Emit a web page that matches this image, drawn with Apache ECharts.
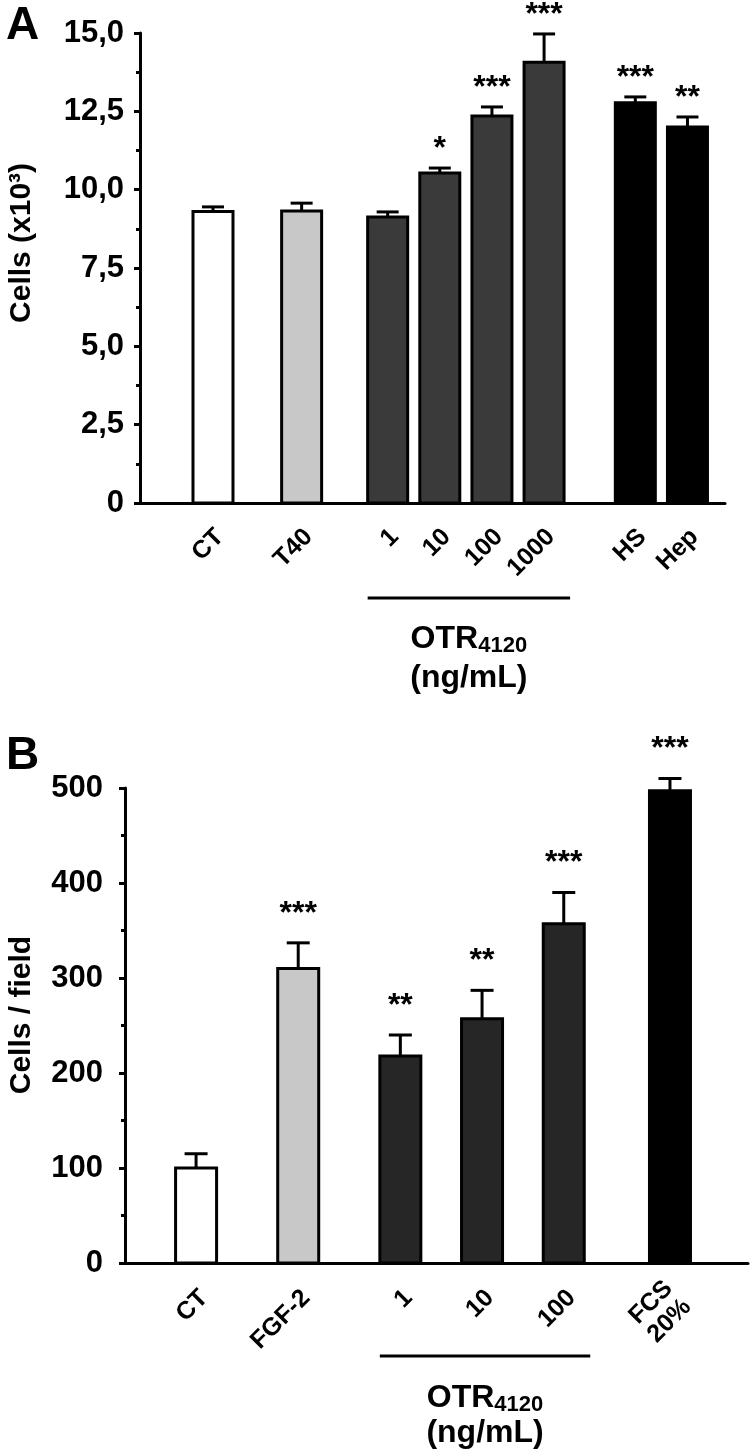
<!DOCTYPE html>
<html>
<head>
<meta charset="utf-8">
<script src="https://cdn.jsdelivr.net/npm/echarts@6/dist/echarts.min.js"></script>
<style>
html,body{margin:0;padding:0;background:#fff;}
#c{width:750px;height:1455px;}
</style>
</head>
<body>
<div id="c"></div>
<script>
// ---------- Panel A data ----------
const catsA = ['CT', 'T40', '1', '10', '100', '1000', 'HS', 'Hep'];
const posA = [0, 1.7, 3.35, 4.35, 5.35, 6.35, 8.1, 9.1];
const valsA = [9.3, 9.32, 9.13, 10.53, 12.35, 14.07, 12.77, 12.0];
const errA = [0.15, 0.25, 0.16, 0.16, 0.29, 0.9, 0.19, 0.32];
const sigA = ['', '', '', '*', '***', '***', '***', '**'];
const groupA = ['ctrl', 'ref', 'otr', 'otr', 'otr', 'otr', 'pos', 'pos'];
const ticksA = ['0', '2,5', '5,0', '7,5', '10,0', '12,5', '15,0'];

// ---------- Panel B data ----------
const catsB = ['CT', 'FGF-2', '1', '10', '100', 'FCS\n20%'];
const posB = [0, 1.25, 2.5, 3.5, 4.5, 5.8];
const valsB = [100, 310, 218, 257, 357, 497];
const errB = [15, 27, 22, 30, 33, 13];
const sigB = ['', '***', '**', '**', '***', '***'];
const groupB = ['ctrl', 'ref', 'otr', 'otr', 'otr', 'pos'];
const ticksB = ['0', '100', '200', '300', '400', '500'];

const colorsA = {ctrl: '#ffffff', ref: '#c8c8c8', otr: '#3a3a3a', pos: '#000000'};
const colorsB = {ctrl: '#ffffff', ref: '#c8c8c8', otr: '#262626', pos: '#000000'};

const FB = "'Liberation Sans',Arial,Helvetica,sans-serif";

function makeRender(cats, sigs, groups, colors, cfg) {
  return function (params, api) {
    const i = params.dataIndex;
    const x = api.value(0), v = api.value(1), e = api.value(2);
    const base = api.coord([x, 0]);
    const top = api.coord([x, v]);
    const cap = api.coord([x, v + e]);
    const w = cfg.barWidth;
    const children = [
      {type: 'line', shape: {x1: top[0], y1: top[1], x2: cap[0], y2: cap[1]},
        style: {stroke: '#000', lineWidth: 3}},
      {type: 'line', shape: {x1: cap[0] - cfg.capW / 2, y1: cap[1], x2: cap[0] + cfg.capW / 2, y2: cap[1]},
        style: {stroke: '#000', lineWidth: 3}},
      {type: 'rect', shape: {x: base[0] - w / 2, y: top[1], width: w, height: base[1] - top[1]},
        style: {fill: colors[groups[i]], stroke: '#000', lineWidth: 3}},
      {type: 'text', x: cap[0], y: cap[1] - cfg.starGap,
        style: {text: sigs[i], fill: '#000', fontSize: cfg.starSize, fontWeight: 'bold', fontFamily: FB,
          align: 'center', verticalAlign: 'middle'}},
      {type: 'text', x: base[0] + cfg.labDx, y: base[1] + cfg.labDy, rotation: Math.PI / 4,
        style: {text: cats[i], fill: '#000', fontSize: cfg.labSize, fontWeight: 'bold', fontFamily: FB,
          align: 'right', verticalAlign: 'middle', lineHeight: cfg.labSize + 1}}
    ];
    return {type: 'group', children: children};
  };
}

const chart = echarts.init(document.getElementById('c'), null, {renderer: 'canvas'});

const yAxisCommon = {
  type: 'value',
  axisLine: {show: true, onZero: false, lineStyle: {color: '#000', width: 3}},
  axisTick: {show: true, inside: false, length: 6, lineStyle: {color: '#000', width: 3}},
  minorTick: {show: true, splitNumber: 2, length: 4, lineStyle: {color: '#000', width: 3}},
  splitLine: {show: false},
  axisLabel: {color: '#000', fontWeight: 'bold', fontFamily: FB, fontSize: 31}
};
const xAxisCommon = {
  type: 'value',
  axisLine: {show: true, onZero: false, lineStyle: {color: '#000', width: 3}},
  axisTick: {show: false}, axisLabel: {show: false}, splitLine: {show: false}
};

chart.setOption({
  animation: false,
  backgroundColor: '#fff',
  grid: [
    {left: 140, top: 33, width: 585, height: 470},
    {left: 125, top: 788, width: 623, height: 475}
  ],
  xAxis: [
    Object.assign({gridIndex: 0, min: -1.4, max: 9.82}, xAxisCommon),
    Object.assign({gridIndex: 1, min: -0.87, max: 6.755}, xAxisCommon)
  ],
  yAxis: [
    Object.assign({}, yAxisCommon, {gridIndex: 0, min: 0, max: 15, interval: 2.5,
      axisLabel: Object.assign({}, yAxisCommon.axisLabel, {margin: 16,
        formatter: function (v) { return ticksA[Math.round(v / 2.5)]; }})}),
    Object.assign({}, yAxisCommon, {gridIndex: 1, min: 0, max: 500, interval: 100,
      axisLabel: Object.assign({}, yAxisCommon.axisLabel, {margin: 22,
        formatter: function (v) { return ticksB[Math.round(v / 100)]; }})})
  ],
  series: [
    {type: 'custom', xAxisIndex: 0, yAxisIndex: 0, clip: false,
      renderItem: makeRender(catsA, sigA, groupA, colorsA,
        {barWidth: 40, capW: 22, starGap: 19, starSize: 32, labDx: 7, labDy: 30, labSize: 25}),
      data: posA.map(function (p, i) { return [p, valsA[i], errA[i]]; })},
    {type: 'custom', xAxisIndex: 1, yAxisIndex: 1, clip: false,
      renderItem: makeRender(catsB, sigB, groupB, colorsB,
        {barWidth: 41, capW: 23, starGap: 29, starSize: 32, labDx: 8, labDy: 31, labSize: 25}),
      data: posB.map(function (p, i) { return [p, valsB[i], errB[i]]; })}
  ]
});

// Annotation bracket under OTR groups, placed from the axis scales
function bracket(gridIdx, pos, groups, barW, lineDy, t1Dy, t2Dy) {
  const idx = [];
  groups.forEach(function (g, i) { if (g === 'otr') idx.push(i); });
  const a = chart.convertToPixel({xAxisIndex: gridIdx, yAxisIndex: gridIdx}, [pos[idx[0]], 0]);
  const b = chart.convertToPixel({xAxisIndex: gridIdx, yAxisIndex: gridIdx}, [pos[idx[idx.length - 1]], 0]);
  const x1 = a[0] - barW / 2, x2 = b[0] + barW / 2 + 6, y = a[1];
  const cx = (x1 + x2) / 2;
  return [
    {type: 'line', shape: {x1: x1, y1: y + lineDy, x2: x2, y2: y + lineDy}, style: {stroke: '#000', lineWidth: 3}},
    {type: 'text', x: cx, y: y + t1Dy, style: {text: '{a|OTR}{b|4120}', align: 'center', verticalAlign: 'middle',
      rich: {a: {fontSize: 32, fontWeight: 'bold', fontFamily: FB, fill: '#000', verticalAlign: 'bottom', padding: [0, 0, 1, 0]},
        b: {fontSize: 22, fontWeight: 'bold', fontFamily: FB, fill: '#000', verticalAlign: 'bottom'}}}},
    {type: 'text', x: cx, y: y + t2Dy, style: {text: '(ng/mL)', fontSize: 32, fontWeight: 'bold', fontFamily: FB,
      fill: '#000', align: 'center', verticalAlign: 'middle'}}
  ];
}

const gA = bracket(0, posA, groupA, 40, 95, 137, 175);
const gB = bracket(1, posB, groupB, 41, 93, 136, 170);
const yTitleA = chart.convertToPixel({yAxisIndex: 0}, 8.3);
const yTitleB = chart.convertToPixel({yAxisIndex: 1}, 261);

chart.setOption({
  graphic: gA.concat(gB).concat([
    {type: 'text', left: 6, top: 3, style: {text: 'A', fontSize: 46, fontWeight: 'bold', fontFamily: FB, fill: '#000'}},
    {type: 'text', left: 6, top: 733, style: {text: 'B', fontSize: 46, fontWeight: 'bold', fontFamily: FB, fill: '#000'}},
    {type: 'text', x: 22, y: yTitleA, rotation: Math.PI / 2,
      style: {text: 'Cells (x10³)', fontSize: 30, fontWeight: 'bold', fontFamily: FB, fill: '#000', align: 'center', verticalAlign: 'middle'}},
    {type: 'text', x: 22, y: yTitleB, rotation: Math.PI / 2,
      style: {text: 'Cells / field', fontSize: 30, fontWeight: 'bold', fontFamily: FB, fill: '#000', align: 'center', verticalAlign: 'middle'}}
  ])
});
</script>
</body>
</html>
